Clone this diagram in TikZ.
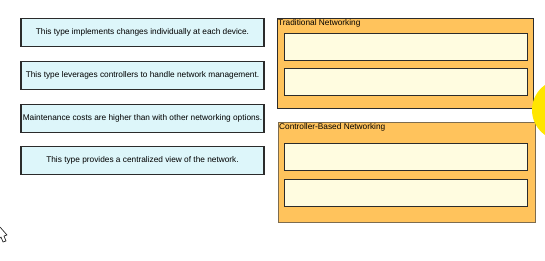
\documentclass[tikz,border=0pt]{standalone}
\usepackage{fontspec}
\setmainfont{Liberation Sans}
\usetikzlibrary{positioning}
\definecolor{cardfill}{HTML}{DDF6FA}
\definecolor{zonefill}{HTML}{FFC35C}
\definecolor{slotfill}{HTML}{FFFCE0}
\definecolor{edgedark}{HTML}{2B2B2B}
\definecolor{edgebrown}{HTML}{7D6C4E}
\definecolor{markyellow}{HTML}{FFE600}

\begin{document}
\begin{tikzpicture}[x=1pt, y=-1pt,
  card/.style={rectangle, minimum width=243pt, minimum height=28pt,
               inner sep=0pt, fill=cardfill, draw=edgedark, line width=1.1pt,
               font=\fontsize{8.3}{9}\selectfont},
  zone/.style={rectangle, anchor=north west, inner sep=0pt, fill=zonefill,
               line width=0.9pt},
  slot/.style={rectangle, minimum width=243pt, minimum height=27pt,
               inner sep=0pt, fill=slotfill, draw=edgedark, line width=0.9pt},
  title/.style={anchor=north west, inner sep=1pt, font=\fontsize{8.3}{9}\selectfont},
]
  \useasboundingbox (0,0) rectangle (545,260);

  % statements to sort
  \node[card] (c1) at (142.5,32.5) {This type implements changes individually at each device.};
  \node[card, below=14pt of c1] (c2) {This type leverages controllers to handle network management.};
  \node[card, below=14pt of c2] (c3) {Maintenance costs are higher than with other networking options.};
  \node[card, below=13pt of c3] (c4) {This type provides a centralized view of the network.};

  % drop zones
  \node[zone, draw=edgedark, minimum width=256pt, minimum height=90pt] (tn) at (277,18) {};
  \node[title] (tnlbl) at (tn.north west) {Traditional Networking};
  \node[slot] (tn1) at (405.5,46.5) {};
  \node[slot, below=8pt of tn1] (tn2) {};

  \node[zone, draw=edgebrown, minimum width=257pt, minimum height=100pt] (cb) at (278,122) {};
  \node[title] (cblbl) at (cb.north west) {Controller-Based Networking};
  \node[slot] (cb1) at (405.5,157) {};
  \node[slot, below=8pt of cb1] (cb2) {};

  % yellow marker and cursor
  \fill[markyellow] (562.5,110) circle (30.5pt);
  \draw[edgedark, line width=0.7pt, line join=round]
    (0,227) -- (7,235) -- (4,236) -- (6,241) -- (3,242) -- (1,237) -- (0,238);
\end{tikzpicture}
\end{document}
